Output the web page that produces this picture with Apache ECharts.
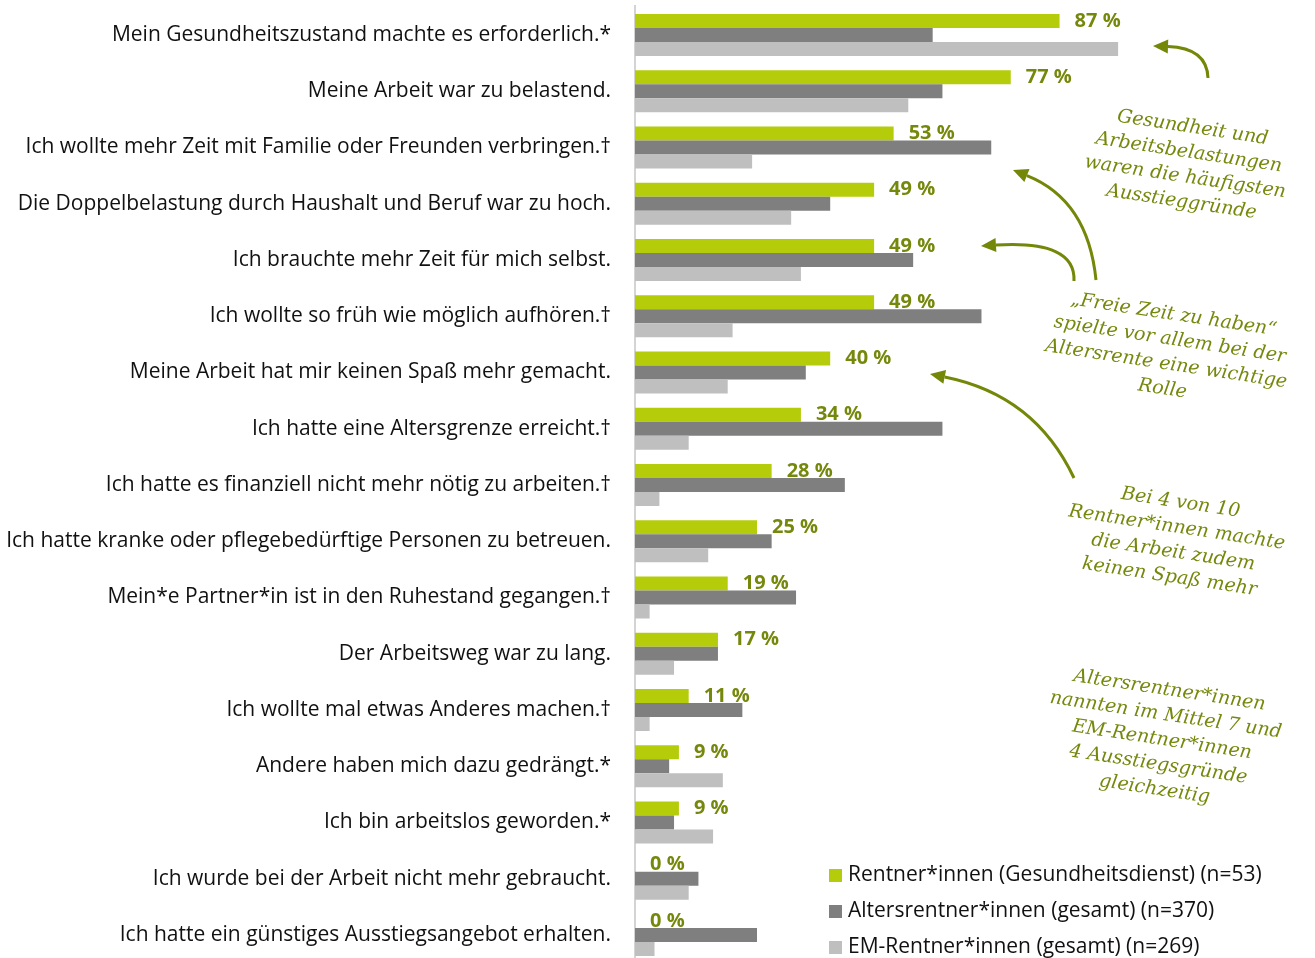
<!DOCTYPE html>
<html>
<head>
<meta charset="utf-8">
<script src="https://cdn.jsdelivr.net/npm/echarts@6/dist/echarts.min.js"></script>
<style>
  html, body { margin: 0; padding: 0; background: #fff; }
  #chart { width: 1315px; height: 958px; }
</style>
</head>
<body>
<div id="chart"></div>
<script>
// categories, top to bottom
var reasons = [
  'Mein Gesundheitszustand machte es erforderlich.*',
  'Meine Arbeit war zu belastend.',
  'Ich wollte mehr Zeit mit Familie oder Freunden verbringen.\u2020',
  'Die Doppelbelastung durch Haushalt und Beruf war zu hoch.',
  'Ich brauchte mehr Zeit für mich selbst.',
  'Ich wollte so früh wie möglich aufhören.\u2020',
  'Meine Arbeit hat mir keinen Spaß mehr gemacht.',
  'Ich hatte eine Altersgrenze erreicht.\u2020',
  'Ich hatte es finanziell nicht mehr nötig zu arbeiten.\u2020',
  'Ich hatte kranke oder pflegebedürftige Personen zu betreuen.',
  'Mein*e Partner*in ist in den Ruhestand gegangen.\u2020',
  'Der Arbeitsweg war zu lang.',
  'Ich wollte mal etwas Anderes machen.\u2020',
  'Andere haben mich dazu gedrängt.*',
  'Ich bin arbeitslos geworden.*',
  'Ich wurde bei der Arbeit nicht mehr gebraucht.',
  'Ich hatte ein günstiges Ausstiegsangebot erhalten.'
];

var seriesNames = [
  'Rentner*innen (Gesundheitsdienst) (n=53)',
  'Altersrentner*innen (gesamt) (n=370)',
  'EM-Rentner*innen (gesamt) (n=269)'
];

var health = [87, 77, 53, 49, 49, 49, 40, 34, 28, 25, 19, 17, 11, 9, 9, 0, 0];
var oldAge = [61, 63, 73, 40, 57, 71, 35, 63, 43, 28, 33, 17, 22, 7, 8, 13, 25];
var disability = [99, 56, 24, 32, 34, 20, 19, 11, 5, 15, 3, 8, 3, 18, 16, 11, 4];

var notes = [
  { text: 'Gesundheit und\nArbeitsbelastungen\nwaren die häufigsten\nAusstieggründe', x: 1187, y: 165 },
  { text: '\u201EFreie Zeit zu haben\u201C\nspielte vor allem bei der\nAltersrente eine wichtige\nRolle', x: 1168, y: 352 },
  { text: 'Bei 4 von 10\nRentner*innen machte\ndie Arbeit zudem\nkeinen Spaß mehr', x: 1175, y: 540 },
  { text: 'Altersrentner*innen\nnannten im Mittel 7 und\nEM-Rentner*innen\n4 Ausstiegsgründe\ngleichzeitig', x: 1162, y: 740 }
];

var GREEN = '#b5cc0a';
var OLIVE = '#76880c';
var ARROW = '#748708';
var FONT = '"Open Sans"';

// curved arrow: quadratic curve plus a filled head at the end
function arrow(x1, y1, cx, cy, x2, y2) {
  var ang = Math.atan2(y2 - cy, x2 - cx);
  var len = 15, half = 7;
  var bx = x2 - len * Math.cos(ang), by = y2 - len * Math.sin(ang);
  var px = -Math.sin(ang) * half, py = Math.cos(ang) * half;
  return [
    {
      type: 'bezierCurve',
      shape: { x1: x1, y1: y1, cpx1: cx, cpy1: cy, x2: bx, y2: by },
      style: { stroke: ARROW, lineWidth: 3, fill: null }
    },
    {
      type: 'polygon',
      shape: { points: [[x2, y2], [bx + px, by + py], [bx - px, by - py]] },
      style: { fill: ARROW }
    }
  ];
}

var graphics = [
  // axis line runs over the full height, beyond the first/last category
  {
    type: 'line',
    shape: { x1: 635, y1: 5, x2: 635, y2: 958 },
    style: { stroke: '#d4d4d4', lineWidth: 2 }
  }
]
  .concat(arrow(1208, 78, 1207, 48, 1153, 46))
  .concat(arrow(1096, 280, 1088, 200, 1013, 170))
  .concat(arrow(1074, 281, 1076, 240, 981, 246))
  .concat(arrow(1074, 478, 1035, 395, 930, 374));

notes.forEach(function (n) {
  graphics.push({
    type: 'text',
    x: n.x,
    y: n.y,
    rotation: -0.15,
    style: {
      text: n.text,
      fill: OLIVE,
      font: 'italic 19px "DejaVu Serif"',
      align: 'center',
      verticalAlign: 'middle',
      lineHeight: 25
    }
  });
});

var myChart = echarts.init(document.getElementById('chart'));

myChart.setOption({
  animation: false,
  textStyle: { fontFamily: FONT },
  grid: { left: 635, right: 192, top: 35, bottom: 23, containLabel: false },
  legend: {
    orient: 'vertical',
    left: 824,
    top: 857,
    width: 480,
    height: 110,
    itemWidth: 13,
    itemHeight: 13,
    itemGap: 9,
    icon: 'rect',
    textStyle: { fontSize: 21, color: '#111', padding: [0, 0, 0, 1], lineHeight: 27 },
    data: seriesNames
  },
  xAxis: {
    type: 'value',
    min: 0,
    max: 100,
    show: false
  },
  yAxis: {
    type: 'category',
    inverse: true,
    boundaryGap: false,
    data: reasons,
    axisTick: { show: false },
    axisLine: { show: false },
    splitLine: { show: false },
    axisLabel: { fontSize: 21, color: '#111', margin: 24 }
  },
  series: [
    {
      name: seriesNames[0],
      type: 'bar',
      data: health,
      barWidth: 14,
      barGap: '0%',
      itemStyle: { color: GREEN },
      label: {
        show: true,
        position: 'right',
        distance: 15,
        formatter: '{c} %',
        fontSize: 20,
        fontWeight: 'bold',
        color: OLIVE
      }
    },
    {
      name: seriesNames[1],
      type: 'bar',
      data: oldAge,
      barWidth: 14,
      barGap: '0%',
      itemStyle: { color: '#7f7f7f' }
    },
    {
      name: seriesNames[2],
      type: 'bar',
      data: disability,
      barWidth: 14,
      barGap: '0%',
      itemStyle: { color: '#bfbfbf' }
    }
  ],
  graphic: graphics
});
</script>
</body>
</html>
